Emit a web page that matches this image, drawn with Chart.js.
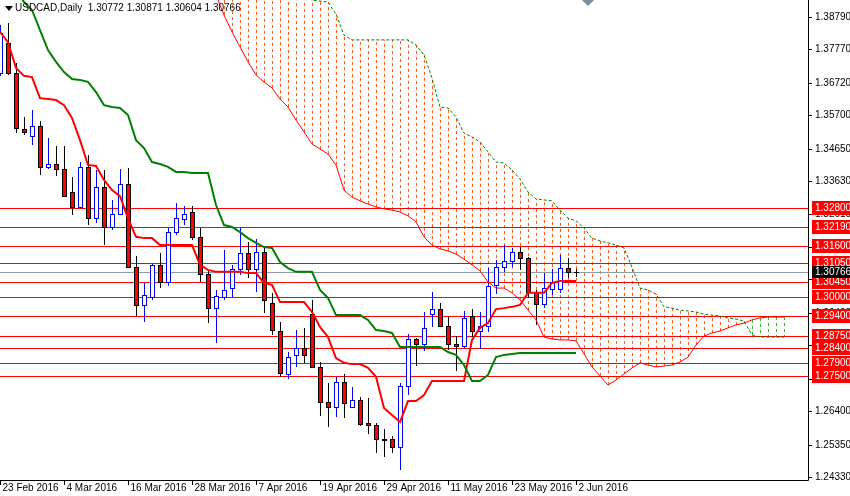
<!DOCTYPE html>
<html><head><meta charset="utf-8">
<script src="https://cdn.jsdelivr.net/npm/chart.js@4"></script>
<style>html,body{margin:0;padding:0;background:#fff;overflow:hidden}</style>
</head><body>
<canvas id="c" width="850" height="496"></canvas>
<script>
const dateLabels = ['23 Feb 2016','4 Mar 2016','16 Mar 2016','28 Mar 2016','7 Apr 2016','19 Apr 2016','29 Apr 2016','11 May 2016','23 May 2016','2 Jun 2016'];
const dateLabelIdx = [0,8,16,24,32,40,48,56,64,72];
const opens  = [1.3703,1.3797,1.3703,1.3527,1.3505,1.3536,1.3408,1.3417,1.3401,1.3329,1.3282,1.3408,1.3247,1.3345,1.3219,1.3260,1.3354,1.3093,1.2974,1.2999,1.3100,1.3046,1.3203,1.3244,1.3266,1.3188,1.3071,1.2964,1.2999,1.3027,1.3087,1.3137,1.3087,1.3140,1.2980,1.2892,1.2757,1.2817,1.2839,1.2945,1.2779,1.2669,1.2653,1.2732,1.2653,1.2675,1.2603,1.2597,1.2553,1.2553,1.2528,1.2719,1.2867,1.2851,1.2945,1.2961,1.2908,1.2851,1.2845,1.2939,1.2892,1.2908,1.3037,1.3093,1.3112,1.3140,1.3121,1.3015,1.2977,1.3024,1.3024,1.3090,1.30772];
const highs  = [1.3854,1.3860,1.3734,1.3565,1.3587,1.3552,1.3499,1.3474,1.3474,1.3376,1.3423,1.3445,1.3398,1.3398,1.3304,1.3401,1.3404,1.3128,1.3043,1.3104,1.3137,1.3216,1.3294,1.3285,1.3285,1.3216,1.3081,1.3021,1.3147,1.3100,1.3216,1.3172,1.3181,1.3156,1.3012,1.2920,1.2826,1.2895,1.2902,1.2990,1.2795,1.2729,1.2748,1.2757,1.2716,1.2685,1.2681,1.2603,1.2584,1.2562,1.2729,1.2883,1.2870,1.2952,1.3015,1.2980,1.2936,1.2876,1.2955,1.2961,1.2952,1.3090,1.3115,1.3162,1.3153,1.3156,1.3125,1.3021,1.3074,1.3087,1.3131,1.3121,1.30871];
const lows   = [1.3694,1.3697,1.3514,1.3508,1.3477,1.3382,1.3401,1.3379,1.3313,1.3257,1.3279,1.3225,1.3232,1.3162,1.3209,1.3257,1.3090,1.2939,1.2920,1.2990,1.3027,1.3033,1.3194,1.3225,1.3178,1.3046,1.2917,1.2854,1.2990,1.2999,1.3068,1.3059,1.3015,1.2949,1.2880,1.2748,1.2741,1.2779,1.2792,1.2776,1.2625,1.2590,1.2622,1.2619,1.2650,1.2594,1.2568,1.2509,1.2496,1.2509,1.2455,1.2691,1.2782,1.2829,1.2905,1.2905,1.2832,1.2766,1.2839,1.2873,1.2836,1.2889,1.3008,1.3078,1.3093,1.3084,1.2996,1.2911,1.2964,1.3005,1.3012,1.3059,1.30604];
const closes = [1.3829,1.3703,1.3530,1.3518,1.3536,1.3408,1.3417,1.3401,1.3316,1.3282,1.3408,1.3247,1.3345,1.3219,1.3260,1.3354,1.3093,1.2974,1.3005,1.3100,1.3046,1.3203,1.3247,1.3260,1.3188,1.3071,1.2964,1.3002,1.3021,1.3087,1.3137,1.3087,1.3140,1.2990,1.2895,1.2760,1.2810,1.2839,1.2817,1.2779,1.2669,1.2653,1.2732,1.2666,1.2675,1.2600,1.2597,1.2553,1.2549,1.2528,1.2719,1.2867,1.2851,1.2902,1.2961,1.2908,1.2851,1.2845,1.2933,1.2892,1.2908,1.3033,1.3093,1.3112,1.3140,1.3121,1.3015,1.2977,1.3027,1.3046,1.3090,1.3078,1.30766];
const tenkan = [1.3832,1.3800,1.3719,1.3694,1.3690,1.3624,1.3621,1.3618,1.3602,1.3562,1.3492,1.3414,1.3411,1.3367,1.3335,1.3316,1.3247,1.3188,1.3184,1.3184,1.3162,1.3162,1.3162,1.3162,1.3162,1.3100,1.3084,1.3078,1.3078,1.3078,1.3078,1.3074,1.3074,1.3043,1.3037,1.2983,1.2983,1.2983,1.2983,1.2952,1.2905,1.2873,1.2807,1.2792,1.2788,1.2788,1.2776,1.2748,1.2650,1.2628,1.2606,1.2672,1.2672,1.2691,1.2735,1.2735,1.2735,1.2735,1.2735,1.2864,1.2902,1.2917,1.2961,1.2964,1.2968,1.2974,1.3012,1.3012,1.3012,1.3043,1.3049,1.3049,1.3049];
const kijun  = [null,1.4011,1.3964,1.3926,1.3901,1.3838,1.3775,1.3738,1.3706,1.3684,1.3681,1.3675,1.3643,1.3602,1.3596,1.3593,1.3571,1.3492,1.3467,1.3423,1.3417,1.3408,1.3392,1.3392,1.3389,1.3389,1.3389,1.3288,1.3225,1.3219,1.3203,1.3184,1.3169,1.3156,1.3153,1.3109,1.3090,1.3078,1.3078,1.3078,1.3021,1.2996,1.2942,1.2942,1.2942,1.2942,1.2927,1.2895,1.2892,1.2886,1.2842,1.2842,1.2842,1.2842,1.2842,1.2842,1.2826,1.2817,1.2785,1.2735,1.2735,1.2754,1.2810,1.2817,1.2820,1.2823,1.2823,1.2823,1.2823,1.2823,1.2823,1.2823,1.2823];
const cloudStart = 27;
const senkouA = [1.3948,1.3885,1.3832,1.3785,1.3738,1.3697,1.3675,1.3656,1.3621,1.3596,1.3555,1.3518,1.3480,1.3464,1.3448,1.3414,1.3335,1.3313,1.3301,1.3291,1.3282,1.3276,1.3272,1.3266,1.3254,1.3235,1.3188,1.3162,1.3150,1.3144,1.3134,1.3118,1.3100,1.3081,1.3046,1.3027,1.3027,1.3012,1.2990,1.2958,1.2927,1.2873,1.2867,1.2864,1.2864,1.2861,1.2820,1.2779,1.2751,1.2722,1.2738,1.2757,1.2776,1.2792,1.2785,1.2779,1.2782,1.2785,1.2795,1.2810,1.2848,1.2876,1.2886,1.2892,1.2902,1.2911,1.2917,1.2927,1.2933,1.2936,1.2936,1.2936];
const senkouB = [1.4121,1.4105,1.4090,1.4074,1.4058,1.4042,1.4027,1.4011,1.3995,1.3980,1.3964,1.3948,1.3932,1.3929,1.3926,1.3888,1.3822,1.3807,1.3807,1.3807,1.3807,1.3807,1.3807,1.3807,1.3807,1.3791,1.3760,1.3687,1.3596,1.3593,1.3565,1.3514,1.3502,1.3486,1.3455,1.3423,1.3420,1.3398,1.3370,1.3329,1.3307,1.3304,1.3301,1.3272,1.3247,1.3238,1.3216,1.3184,1.3175,1.3169,1.3162,1.3153,1.3093,1.3027,1.3021,1.3008,1.2968,1.2964,1.2958,1.2955,1.2952,1.2945,1.2942,1.2939,1.2933,1.2930,1.2923,1.2880,1.2873,1.2873,1.2873,1.2873];
const levels = [1.3280,1.3219,1.3160,1.3105,1.3045,1.3000,1.2940,1.2875,1.2840,1.2790,1.2750];
const lastPrice = 1.30766;
const yTicks = [1.38790,1.37770,1.36720,1.35700,1.34650,1.33630,1.32610,1.31560,1.30540,1.29490,1.28470,1.27420,1.26400,1.25350,1.24330];

const pts = (arr, off) => arr.map((v,i)=>({x:i+off,y:v}));
const FONT = '10px "Liberation Sans"';

const plug = {
  id:'mt4',
  beforeDatasetsDraw(ch){
    const c=ch.ctx, xs=ch.scales.x, ys=ch.scales.y, a=ch.chartArea;
    c.save();
    c.beginPath(); c.rect(a.left,a.top,a.right-a.left,a.bottom-a.top); c.clip();
    c.lineWidth=1; c.setLineDash([3,3]);
    for(let k=0;k<senkouA.length;k++){
      const x=Math.round(xs.getPixelForValue(k+cloudStart))+0.5;
      const ya=ys.getPixelForValue(senkouA[k]), yb=ys.getPixelForValue(senkouB[k]);
      c.strokeStyle = senkouA[k] < senkouB[k] ? '#ff5a1a' : '#2eb82e';
      c.beginPath(); c.moveTo(x,ya); c.lineTo(x,yb); c.stroke();
    }
    c.setLineDash([]);
    c.strokeStyle='#ff0000';
    levels.forEach(l=>{const y=Math.round(ys.getPixelForValue(l))+0.5;c.beginPath();c.moveTo(a.left,y);c.lineTo(a.right,y);c.stroke();});
    c.strokeStyle='#8c99a6';
    {const y=Math.round(ys.getPixelForValue(lastPrice))+0.5;c.beginPath();c.moveTo(a.left,y);c.lineTo(a.right,y);c.stroke();}
    for(let i=0;i<opens.length;i++){
      const x=Math.round(xs.getPixelForValue(i));
      const yo=Math.round(ys.getPixelForValue(opens[i])), yc=Math.round(ys.getPixelForValue(closes[i]));
      const yh=Math.round(ys.getPixelForValue(highs[i])), yl=Math.round(ys.getPixelForValue(lows[i]));
      const bull=closes[i]>=opens[i];
      c.strokeStyle=bull?'#0000ff':'#000000';
      c.beginPath();c.moveTo(x+0.5,yh);c.lineTo(x+0.5,yl);c.stroke();
      const top=Math.min(yo,yc), h=Math.max(1,Math.abs(yo-yc));
      if(i===opens.length-1 && h<=1){ c.beginPath();c.moveTo(x-2,top+0.5);c.lineTo(x+3,top+0.5);c.stroke(); continue;}
      c.fillStyle=bull?'#ffffff':'#ff0000';
      c.fillRect(x-2,top,5,h);
      c.strokeRect(x-2+0.5,top+0.5,4,h);
    }
    c.restore();
  },
  afterDraw(ch){
    const c=ch.ctx, xs=ch.scales.x, ys=ch.scales.y, a=ch.chartArea;
    c.save();
    c.strokeStyle='#000'; c.lineWidth=1;
    c.beginPath();c.moveTo(a.right+0.5,0);c.lineTo(a.right+0.5,a.bottom+0.5);c.lineTo(0,a.bottom+0.5);c.stroke();
    c.font=FONT; c.fillStyle='#000'; c.textBaseline='middle'; c.textAlign='left';
    yTicks.forEach(t=>{const y=Math.round(ys.getPixelForValue(t))+0.5;c.beginPath();c.moveTo(a.right,y);c.lineTo(a.right+4,y);c.stroke();c.fillText(t.toFixed(5),a.right+7,y);});
    levels.forEach(l=>{const y=Math.round(ys.getPixelForValue(l));c.fillStyle='#ff0000';c.fillRect(a.right+4,y-7,42,14);c.fillStyle='#fff';c.fillText(l.toFixed(5),a.right+7,y);});
    {const y=Math.round(ys.getPixelForValue(lastPrice));c.fillStyle='#000';c.fillRect(a.right+4,y-6,42,12);c.fillStyle='#fff';c.fillText(lastPrice.toFixed(5),a.right+7,y);}
    c.fillStyle='#000'; c.textBaseline='top';
    dateLabelIdx.forEach((d,k)=>{const x=Math.round(xs.getPixelForValue(d))+0.5;c.beginPath();c.moveTo(x,a.bottom);c.lineTo(x,a.bottom+5);c.stroke();c.fillText(dateLabels[k],x+2,a.bottom+3);});
    c.textBaseline='middle';
    c.beginPath();c.moveTo(5,6);c.lineTo(13,6);c.lineTo(9,11);c.closePath();c.fill();
    c.fillText('USDCAD,Daily  1.30772 1.30871 1.30604 1.30766',15,8);
    c.fillStyle='#7f8c99';c.beginPath();c.moveTo(582,0);c.lineTo(594,0);c.lineTo(588,6);c.closePath();c.fill();
    c.restore();
  }
};

new Chart(document.getElementById('c'),{
  type:'line',
  data:{datasets:[
    {data:pts(senkouA,cloudStart),borderColor:'#ff0000',borderWidth:1,pointRadius:0,tension:0},
    {data:pts(senkouB,cloudStart),borderColor:'#008000',borderWidth:1,borderDash:[3,2],pointRadius:0,tension:0},
    {data:pts(kijun,0),borderColor:'#008000',borderWidth:2,pointRadius:0,tension:0,spanGaps:false},
    {data:pts(tenkan,0),borderColor:'#ff0000',borderWidth:2,pointRadius:0,tension:0}
  ]},
  options:{
    responsive:false,animation:false,devicePixelRatio:1,
    layout:{padding:{left:0,top:0,right:42,bottom:16}},
    plugins:{legend:{display:false},tooltip:{enabled:false}},
    scales:{
      x:{type:'linear',min:0,max:101,display:false},
      y:{type:'linear',min:1.24238,max:1.39324,display:false}
    }
  },
  plugins:[plug]
});
</script>
</body></html>
